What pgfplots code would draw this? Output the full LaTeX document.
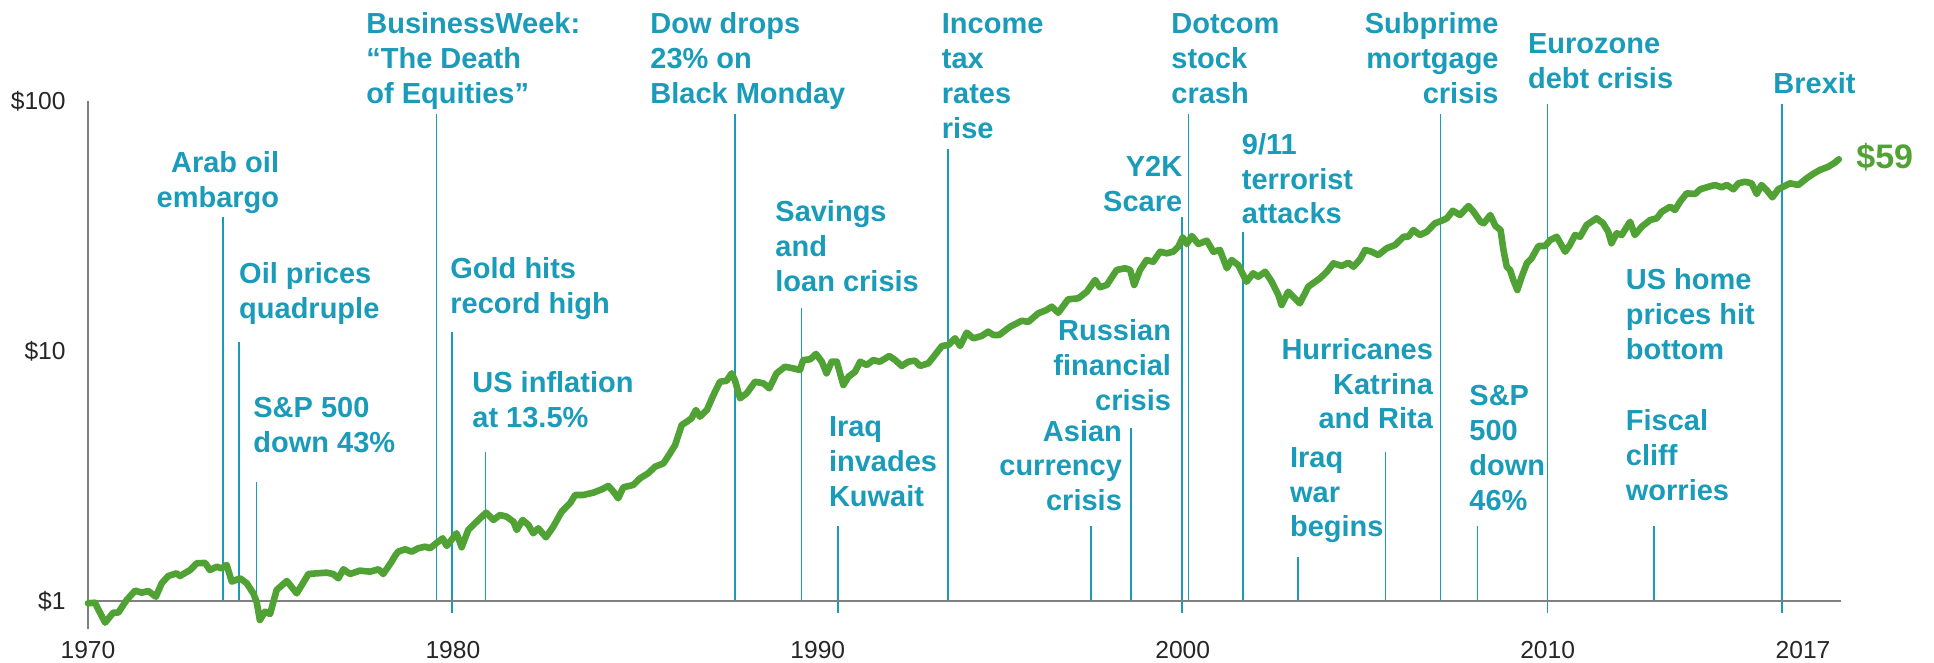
\documentclass[border=0pt]{standalone}
\usepackage{pgfplots}
\pgfplotsset{compat=1.18}
\usepackage{fontspec}
\setmainfont{Liberation Sans}
\definecolor{teal1}{RGB}{25,155,185}
\definecolor{green1}{RGB}{80,162,52}
\definecolor{axgray}{RGB}{128,128,128}
\tikzset{
  lbl/.style={text=teal1, font=\fontsize{14.5}{17.4}\selectfont\bfseries, inner sep=0pt},
  L/.style={lbl, anchor=base west},
  R/.style={lbl, anchor=base east},
}
\begin{document}
\begin{tikzpicture}
\begin{scope}[x=0.5pt,y=-0.5pt]
\useasboundingbox (0,0) rectangle (1934,663);
\end{scope}
\begin{axis}[
  at={(44pt,-314.5pt)}, anchor=south west,
  scale only axis, width=876.5pt, height=264pt,
  xmin=1970, xmax=2018.04, ymin=0.7726, ymax=100, ymode=log,
  axis line style={draw=none},
  major tick length=0pt, minor tick length=0pt,
  xtick={1970,1980,1990,2000,2010,2017},
  xticklabels={1970,1980,1990,2000,2010,2017},
  ytick={1,10,100}, yticklabels={\$1,\$10,\$100},
  ticklabel style={font=\fontsize{12.3}{14}\selectfont, text=black!85},
  xticklabel style={anchor=north, inner sep=0pt, yshift=-6pt},
  yticklabel style={anchor=east, inner sep=0pt, xshift=-11pt},
  clip=false,
]
% event lines
\addplot[teal1, line width=0.7pt] coordinates {(1973.705,1) (1973.705,34.4)};
\addplot[teal1, line width=0.7pt] coordinates {(1974.133,1) (1974.133,10.9)};
\addplot[teal1, line width=0.7pt] coordinates {(1974.62,1) (1974.62,2.98)};
\addplot[teal1, line width=0.7pt] coordinates {(1979.553,1) (1979.553,88.7)};
\addplot[teal1, line width=0.7pt] coordinates {(1979.97,0.895) (1979.97,11.9)};
\addplot[teal1, line width=0.7pt] coordinates {(1980.888,1) (1980.888,3.96)};
\addplot[teal1, line width=0.7pt] coordinates {(1987.726,1) (1987.726,88.7)};
\addplot[teal1, line width=0.7pt] coordinates {(1989.56,1) (1989.56,14.9)};
\addplot[teal1, line width=0.7pt] coordinates {(1990.55,0.895) (1990.55,1.99)};
\addplot[teal1, line width=0.7pt] coordinates {(1993.563,1) (1993.563,64.4)};
\addplot[teal1, line width=0.7pt] coordinates {(1997.49,1) (1997.49,1.99)};
\addplot[teal1, line width=0.7pt] coordinates {(1998.578,1) (1998.578,4.92)};
\addplot[teal1, line width=0.7pt] coordinates {(1999.984,0.895) (1999.984,34.5)};
\addplot[teal1, line width=0.7pt] coordinates {(2000.156,1) (2000.156,88.7)};
\addplot[teal1, line width=0.7pt] coordinates {(2001.65,1) (2001.65,29.8)};
\addplot[teal1, line width=0.7pt] coordinates {(2003.155,1) (2003.155,1.50)};
\addplot[teal1, line width=0.7pt] coordinates {(2005.563,1) (2005.563,3.96)};
\addplot[teal1, line width=0.7pt] coordinates {(2007.07,1) (2007.07,88.7)};
\addplot[teal1, line width=0.7pt] coordinates {(2008.07,1) (2008.07,1.99)};
\addplot[teal1, line width=0.7pt] coordinates {(2010.0,0.895) (2010.0,97.6)};
\addplot[teal1, line width=0.7pt] coordinates {(2012.92,1) (2012.92,1.99)};
\addplot[teal1, line width=0.7pt] coordinates {(2016.42,0.895) (2016.42,97.6)};
% axis lines
\draw[axgray, line width=0.9pt] (axis cs:1970,0.7726) -- (axis cs:1970,100);
\draw[axgray, line width=1pt] (axis cs:1970,1) -- (axis cs:2018.04,1);
% growth of $1
\addplot[green1, line width=3.3pt, line join=round, line cap=round] coordinates {
(1970.00,0.979) (1970.19,0.984) (1970.47,0.819) (1970.69,0.898) (1970.83,0.898)
(1971.06,1.009) (1971.29,1.10) (1971.47,1.079) (1971.65,1.096) (1971.86,1.04)
(1972.02,1.177) (1972.20,1.259) (1972.43,1.29) (1972.52,1.259) (1972.80,1.33)
(1972.98,1.415) (1973.21,1.42) (1973.34,1.33) (1973.53,1.371) (1973.66,1.35)
(1973.80,1.393) (1973.94,1.195) (1974.17,1.232) (1974.35,1.177) (1974.53,1.073)
(1974.62,0.994) (1974.71,0.839) (1974.85,0.906) (1974.99,0.887) (1975.17,1.107)
(1975.45,1.202) (1975.72,1.073) (1975.86,1.159) (1976.04,1.282) (1976.27,1.29)
(1976.54,1.298) (1976.72,1.282) (1976.86,1.232) (1977.00,1.339) (1977.18,1.282)
(1977.45,1.322) (1977.73,1.31) (1977.96,1.339) (1978.09,1.282) (1978.32,1.436)
(1978.42,1.52) (1978.50,1.575) (1978.69,1.61) (1978.87,1.575) (1979.05,1.625)
(1979.24,1.649) (1979.37,1.625) (1979.54,1.70) (1979.72,1.781) (1979.83,1.66)
(1980.10,1.866) (1980.24,1.64) (1980.42,1.923) (1980.65,2.075) (1980.91,2.256)
(1981.11,2.109) (1981.29,2.208) (1981.47,2.175) (1981.66,2.075) (1981.75,1.923)
(1981.91,2.109) (1982.07,2.014) (1982.20,1.866) (1982.34,1.953) (1982.55,1.798)
(1982.75,1.982) (1982.98,2.276) (1983.21,2.459) (1983.35,2.655) (1983.57,2.655)
(1983.85,2.712) (1984.08,2.797) (1984.26,2.884) (1984.40,2.737) (1984.53,2.575)
(1984.67,2.849) (1984.94,2.911) (1985.13,3.096) (1985.35,3.242) (1985.54,3.444)
(1985.77,3.553) (1985.95,3.897) (1986.09,4.207) (1986.27,5.058) (1986.41,5.21)
(1986.54,5.38) (1986.66,5.808) (1986.77,5.46) (1986.96,5.808) (1987.14,6.668)
(1987.32,7.537) (1987.50,7.6) (1987.64,8.14) (1987.73,7.62) (1987.87,6.468)
(1988.05,6.77) (1988.28,7.537) (1988.51,7.426) (1988.67,7.09) (1988.87,8.14)
(1989.10,8.65) (1989.33,8.52) (1989.51,8.39) (1989.60,9.2) (1989.79,9.26)
(1989.95,9.73) (1990.11,9.06) (1990.24,8.14) (1990.38,9.06) (1990.52,9.06)
(1990.70,7.31) (1990.84,7.89) (1991.02,8.26) (1991.16,9.06) (1991.34,8.79)
(1991.52,9.2) (1991.70,9.06) (1991.96,9.55) (1992.12,9.2) (1992.30,8.71)
(1992.48,9.06) (1992.66,9.15) (1992.80,8.71) (1993.03,8.93) (1993.21,9.64)
(1993.40,10.47) (1993.58,10.57) (1993.76,11.24) (1993.90,10.47) (1994.08,11.84)
(1994.26,11.24) (1994.49,11.48) (1994.67,11.95) (1994.81,11.59) (1994.97,11.59)
(1995.27,12.51) (1995.59,13.21) (1995.77,13.08) (1996.04,14.15) (1996.27,14.59)
(1996.41,15.04) (1996.59,14.22) (1996.86,16.1) (1997.14,16.24) (1997.37,17.26)
(1997.60,19.23) (1997.73,17.98) (1997.92,18.37) (1998.19,21.09) (1998.42,21.42)
(1998.56,21.09) (1998.67,18.37) (1998.83,21.09) (1999.01,23.12) (1999.19,22.75)
(1999.38,24.95) (1999.56,24.59) (1999.74,24.95) (1999.88,26.12) (2000.00,28.5)
(2000.11,26.79) (2000.25,28.84) (2000.43,26.79) (2000.66,27.62) (2000.84,24.95)
(2001.02,25.35) (2001.21,21.42) (2001.34,23.12) (2001.52,22.08) (2001.75,18.93)
(2001.93,20.45) (2002.07,19.82) (2002.26,20.75) (2002.44,18.93) (2002.62,16.75)
(2002.71,15.28) (2002.89,17.26) (2003.21,15.51) (2003.44,18.08) (2003.76,19.53)
(2003.95,20.75) (2004.13,22.42) (2004.36,21.88) (2004.54,22.55) (2004.68,21.73)
(2004.86,23.27) (2005.00,25.35) (2005.18,24.95) (2005.36,24.21) (2005.59,25.75)
(2005.82,26.55) (2006.05,28.64) (2006.18,28.64) (2006.32,30.48) (2006.50,29.11)
(2006.69,30.0) (2006.91,32.42) (2007.10,33.2) (2007.24,33.95) (2007.40,36.4)
(2007.60,34.99) (2007.83,38.02) (2007.97,36.07) (2008.16,32.89) (2008.25,32.42)
(2008.43,34.99) (2008.57,31.62) (2008.71,30.48) (2008.79,25.35) (2008.88,21.73)
(2008.97,21.09) (2009.06,19.23) (2009.17,17.54) (2009.29,19.82) (2009.43,22.42)
(2009.56,23.48) (2009.75,26.3) (2009.93,26.3) (2010.07,27.8) (2010.25,28.64)
(2010.48,24.95) (2010.61,26.55) (2010.75,29.11) (2010.89,28.64) (2011.07,31.92)
(2011.34,33.95) (2011.52,32.42) (2011.66,30.0) (2011.75,26.97) (2011.89,29.56)
(2012.03,29.11) (2012.26,32.89) (2012.39,29.11) (2012.58,31.42) (2012.81,33.42)
(2012.99,33.95) (2013.13,36.07) (2013.36,37.76) (2013.49,36.64) (2013.63,39.57)
(2013.81,42.73) (2014.04,42.46) (2014.18,44.34) (2014.41,45.39) (2014.59,46.13)
(2014.77,45.16) (2014.91,46.13) (2015.09,44.34) (2015.23,46.86) (2015.41,47.53)
(2015.59,46.86) (2015.73,42.46) (2015.86,46.13) (2016.00,44.06) (2016.16,41.19)
(2016.32,44.34) (2016.50,45.71) (2016.64,46.86) (2016.87,46.13) (2017.10,49.07)
(2017.27,51.05) (2017.46,52.97) (2017.69,54.58) (2017.87,56.65) (2017.98,58.44)
};
\end{axis}
\begin{scope}[x=0.5pt,y=-0.5pt]
% left-aligned labels
\node[L] at (238.8,284) {Oil prices};
\node[L] at (238.8,318.8) {quadruple};
\node[L] at (253,417.8) {S\&P 500};
\node[L] at (253,452.6) {down 43\%};
\node[L] at (366,33.8) {BusinessWeek:};
\node[L] at (366,68.6) {“The Death};
\node[L] at (366,103.4) {of Equities”};
\node[L] at (450,279) {Gold hits};
\node[L] at (450,313.8) {record high};
\node[L] at (472,392.4) {US inflation};
\node[L] at (472,427.2) {at 13.5\%};
\node[L] at (650,33.8) {Dow drops};
\node[L] at (650,68.6) {23\% on};
\node[L] at (650,103.4) {Black Monday};
\node[L] at (775,222) {Savings};
\node[L] at (775,256.8) {and};
\node[L] at (775,291.6) {loan crisis};
\node[L] at (828.6,436.4) {Iraq};
\node[L] at (828.6,471.2) {invades};
\node[L] at (828.6,506) {Kuwait};
\node[L] at (941.5,33.8) {Income};
\node[L] at (941.5,68.6) {tax};
\node[L] at (941.5,103.4) {rates};
\node[L] at (941.5,138.2) {rise};
\node[L] at (1171,33.8) {Dotcom};
\node[L] at (1171,68.6) {stock};
\node[L] at (1171,103.4) {crash};
\node[L] at (1241.5,154.3) {9/11};
\node[L] at (1241.5,189.1) {terrorist};
\node[L] at (1241.5,223.9) {attacks};
\node[L] at (1289.7,467.2) {Iraq};
\node[L] at (1289.7,502) {war};
\node[L] at (1289.7,536.8) {begins};
\node[L] at (1527.7,54) {Eurozone};
\node[L] at (1527.7,88.8) {debt crisis};
\node[L] at (1773,93.9) {Brexit};
\node[L] at (1469,406) {S\&P};
\node[L] at (1469,440.8) {500};
\node[L] at (1469,475.6) {down};
\node[L] at (1469,510.4) {46\%};
\node[L] at (1625.5,289.6) {US home};
\node[L] at (1625.5,324.4) {prices hit};
\node[L] at (1625.5,359.2) {bottom};
\node[L] at (1625.5,430.4) {Fiscal};
\node[L] at (1625.5,465.2) {cliff};
\node[L] at (1625.5,500) {worries};
% right-aligned labels
\node[R] at (279.5,172.5) {Arab oil};
\node[R] at (279.5,207.3) {embargo};
\node[R] at (1182.6,176.7) {Y2K};
\node[R] at (1182.6,211.5) {Scare};
\node[R] at (1171.4,340.4) {Russian};
\node[R] at (1171.4,375.2) {financial};
\node[R] at (1171.4,410) {crisis};
\node[R] at (1122.3,441) {Asian};
\node[R] at (1122.3,475.8) {currency};
\node[R] at (1122.3,510.6) {crisis};
\node[R] at (1433.4,359.4) {Hurricanes};
\node[R] at (1433.4,394.2) {Katrina};
\node[R] at (1433.4,429) {and Rita};
\node[R] at (1499,33.8) {Subprime};
\node[R] at (1499,68.6) {mortgage};
\node[R] at (1499,103.4) {crisis};
% end value
\node[anchor=base west, inner sep=0pt, text=green1, font=\fontsize{17}{20}\selectfont\bfseries] at (1856,169) {\$59};
\end{scope}
\end{tikzpicture}
\end{document}
